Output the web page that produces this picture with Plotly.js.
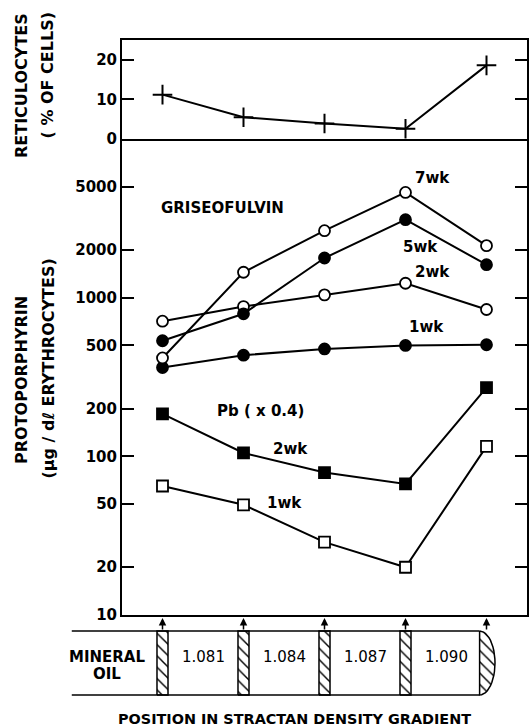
<!DOCTYPE html>
<html>
<head>
<meta charset="utf-8">
<script src="https://cdn.plot.ly/plotly-3.0.1.min.js"></script>
<style>html,body{margin:0;padding:0;background:#fff;}#chart{width:532px;height:728px;}</style>
</head>
<body>
<div id="chart"></div>
<script>
// ---- data ----
const positions = [0, 1, 2, 3, 4];
const densityLabels = ['1.081', '1.084', '1.087', '1.090'];
const reticulocytes = [11.2, 5.5, 3.9, 2.6, 18.6];
const gf7wk = [417, 1446, 2644, 4603, 2128];
const gf5wk = [535, 791, 1778, 3100, 1614];
const gf2wk = [711, 879, 1041, 1233, 842];
const gf1wk = [363, 434, 475, 500, 505];
const pb2wk = [185, 105, 79, 67, 271];
const pb1wk = [65, 49.5, 28.8, 20, 115.6];
const reticTicks = [0, 10, 20];
const protoTicks = [10, 20, 50, 100, 200, 500, 1000, 2000, 5000];

// ---- geometry helpers (pixels -> paper) ----
const W = 532, H = 728;
const fx = px => px / W;
const fy = py => 1 - py / H;
const plotL = 122, plotR = 527;
const xRange = [-0.5, 4.5];
const pxPerUnit = (plotR - plotL) / (xRange[1] - xRange[0]);
const x3Range = [xRange[0] - plotL / pxPerUnit, xRange[1] + (W - plotR) / pxPerUnit];
const tubeTop = 631, tubeBot = 695, tubePx = tubeBot - tubeTop;
const y3Dom = [710, 612];
const y3Range = [-(y3Dom[0] - tubeBot) / tubePx, 1 + (tubeTop - y3Dom[1]) / tubePx];

const FONT = 'DejaVu Sans';
const black = '#000';

const lineStyle = {color: black, width: 2};
function series(y, symbol, fill, xa, ya) {
  return {
    x: positions, y: y, xaxis: xa, yaxis: ya, type: 'scatter', mode: 'lines+markers',
    line: lineStyle,
    marker: {symbol: symbol, size: 11, color: fill, line: {color: black, width: 1.8}},
    hoverinfo: 'skip', showlegend: false, cliponaxis: false
  };
}

const traces = [
  {x: positions, y: reticulocytes, xaxis: 'x', yaxis: 'y', type: 'scatter', mode: 'lines+markers',
   line: lineStyle, marker: {symbol: 'cross-thin', size: 14, line: {color: black, width: 2}},
   hoverinfo: 'skip', showlegend: false, cliponaxis: false},
  series(gf1wk, 'circle', black, 'x2', 'y2'),
  series(gf2wk, 'circle', '#fff', 'x2', 'y2'),
  series(gf5wk, 'circle', black, 'x2', 'y2'),
  series(gf7wk, 'circle', '#fff', 'x2', 'y2'),
  series(pb2wk, 'square', black, 'x2', 'y2'),
  series(pb1wk, 'square', '#fff', 'x2', 'y2')
];

// ---- tube diagram (hatched bands) ----
const bandHalf = 0.068;
const bx = [], by = [];
positions.slice(0, 4).forEach(p => {
  bx.push(p - bandHalf, p + bandHalf, p + bandHalf, p - bandHalf, p - bandHalf, null);
  by.push(0, 0, 1, 1, 0, null);
});
const hatch = {shape: '\\', size: 8, solidity: 0.18, fgcolor: black, bgcolor: '#fff'};
traces.push({x: bx, y: by, xaxis: 'x3', yaxis: 'y3', type: 'scatter', mode: 'lines',
  fill: 'toself', fillcolor: '#fff', fillpattern: hatch, line: {color: black, width: 1.5},
  hoverinfo: 'skip', showlegend: false});
const capL = positions[4] - 0.085, capR = 0.19;
const cx = [capL], cy = [1];
for (let i = 0; i <= 24; i++) {
  const t = Math.PI * i / 24;
  cx.push(capL + capR * Math.sin(t));
  cy.push(0.5 + 0.5 * Math.cos(t));
}
cx.push(capL); cy.push(1);
traces.push({x: cx, y: cy, xaxis: 'x3', yaxis: 'y3', type: 'scatter', mode: 'lines',
  fill: 'toself', fillcolor: '#fff', fillpattern: hatch, line: {color: black, width: 1.5},
  hoverinfo: 'skip', showlegend: false});

const tubeLeft = -1.12;
const shapes = [
  {type: 'line', xref: 'x3', yref: 'y3', x0: tubeLeft, x1: capL, y0: 1, y1: 1, line: {color: black, width: 1.5}},
  {type: 'line', xref: 'x3', yref: 'y3', x0: tubeLeft, x1: capL, y0: 0, y1: 0, line: {color: black, width: 1.5}}
];

const ann = [];
function txt(text, x, y, size, xref, yref, extra) {
  ann.push(Object.assign({text: text, x: x, y: y, xref: xref || 'paper', yref: yref || 'paper',
    showarrow: false, xanchor: 'center', yanchor: 'middle',
    font: {family: FONT, size: size, color: black, weight: 700}}, extra || {}));
}
// axis titles
txt('RETICULOCYTES', fx(21), fy(86), 16, 'paper', 'paper', {textangle: -90});
txt('( % OF CELLS)', fx(47.5), fy(76), 16, 'paper', 'paper', {textangle: -90});
txt('PROTOPORPHYRIN', fx(21), fy(380), 16, 'paper', 'paper', {textangle: -90});
txt('(µg / dℓ ERYTHROCYTES)', fx(47.5), fy(369), 16, 'paper', 'paper', {textangle: -90});
txt('POSITION IN STRACTAN DENSITY GRADIENT', fx(294), fy(719), 14.4);
// series labels
txt('GRISEOFULVIN', fx(222), fy(208), 15);
txt('7wk', fx(432), fy(178), 15);
txt('5wk', fx(420), fy(247), 15);
txt('2wk', fx(432), fy(272), 15);
txt('1wk', fx(426), fy(327), 15);
txt('Pb ( x 0.4)', fx(260), fy(411), 15);
txt('2wk', fx(290), fy(449), 15);
txt('1wk', fx(284), fy(503), 15);
// tube labels
const midY = (tubeBot - 656.5) / tubePx;
txt('MINERAL', -0.68, midY, 15, 'x3', 'y3');
txt('OIL', -0.68, (tubeBot - 674) / tubePx, 15, 'x3', 'y3');
densityLabels.forEach((d, i) => txt(d, positions[i] + 0.5, midY, 15, 'x3', 'y3', {font: {family: FONT, size: 15, color: black, weight: 400}}));
// arrows
positions.forEach(p => ann.push({x: p, y: 1 + 13 / tubePx, xref: 'x3', yref: 'y3', ax: 0, ay: 13,
  text: '', showarrow: true, arrowhead: 2, arrowsize: 1, arrowwidth: 1.5, arrowcolor: black, standoff: 0}));

const tickFont = {family: FONT, size: 15, color: black, weight: 700};
const yCommon = {showline: true, linecolor: black, linewidth: 2, mirror: 'ticks', ticks: 'inside',
  ticklen: 12, tickwidth: 2, tickcolor: black, showgrid: false, zeroline: false, tickfont: tickFont,
  ticklabelstandoff: 0, fixedrange: true};
const xCommon = {range: xRange, domain: [fx(plotL), fx(plotR)], showline: true,
  linecolor: black, linewidth: 2, showticklabels: false, ticks: '', showgrid: false, zeroline: false, fixedrange: true};

const layout = {
  width: W, height: H, autosize: false,
  margin: {l: 0, r: 0, t: 0, b: 0, pad: 0},
  paper_bgcolor: '#fff', plot_bgcolor: 'rgba(0,0,0,0)',
  showlegend: false, hovermode: false,
  xaxis: Object.assign({}, xCommon, {anchor: 'y', mirror: true}),
  yaxis: Object.assign({}, yCommon, {domain: [fy(139), fy(40)], range: [0, 25], tickvals: reticTicks, anchor: 'x'}),
  xaxis2: Object.assign({}, xCommon, {anchor: 'y2', mirror: false}),
  yaxis2: Object.assign({}, yCommon, {type: 'log', domain: [fy(615), fy(139)], range: [1, 4],
    tickvals: protoTicks, ticktext: protoTicks.map(String), anchor: 'x2'}),
  xaxis3: {domain: [0, 1], range: x3Range, visible: false, anchor: 'y3', fixedrange: true},
  yaxis3: {domain: [fy(y3Dom[0]), fy(y3Dom[1])], range: y3Range, visible: false, anchor: 'x3', fixedrange: true},
  shapes: shapes,
  annotations: ann
};

Plotly.newPlot('chart', traces, layout, {staticPlot: true, displayModeBar: false});
</script>
</body>
</html>
